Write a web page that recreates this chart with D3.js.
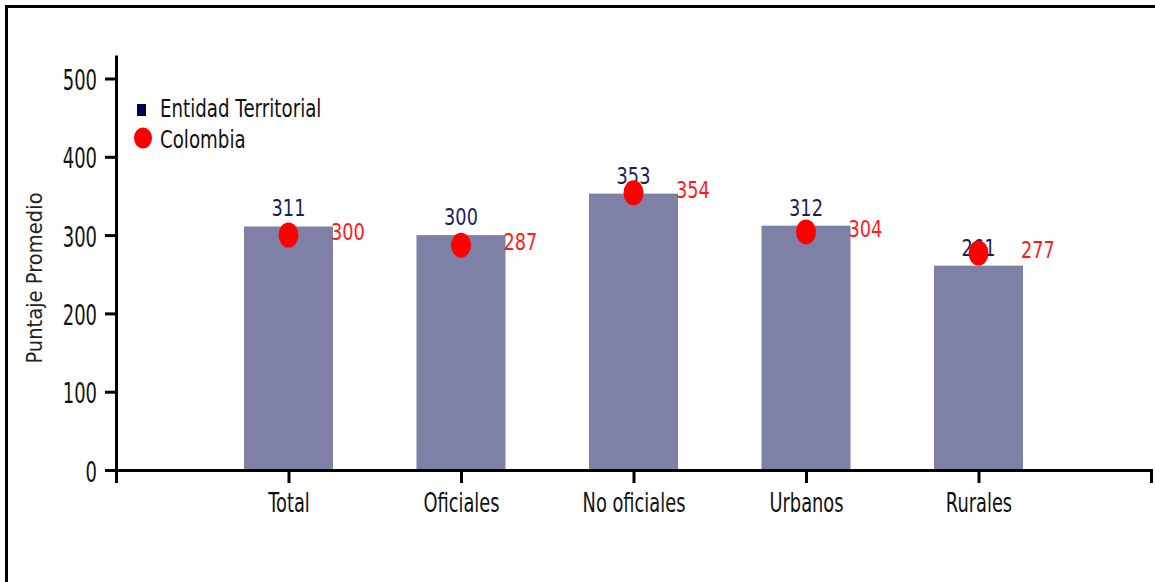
<!DOCTYPE html>
<html>
<head>
<meta charset="utf-8">
<script src="https://cdn.jsdelivr.net/npm/d3@7"></script>
<style>
  body { margin: 0; background: #fff; }
  text { font-family: "DejaVu Sans", sans-serif; }
</style>
</head>
<body>
<div id="chart" style="width:1155px;height:582px;"></div>
<script>
const categories = ["Total", "Oficiales", "No oficiales", "Urbanos", "Rurales"];
const entidad = [311, 300, 353, 312, 261];
const colombia = [300, 287, 354, 304, 277];
const yTicks = [0, 100, 200, 300, 400, 500];
const legendLabels = ["Entidad Territorial", "Colombia"];

const width = 1155, height = 582;
const svg = d3.select("#chart").append("svg")
    .attr("width", width)
    .attr("height", height);

// frame (top + left only visible)
svg.append("path")
    .attr("d", "M6.5,590V6.5H1160")
    .attr("fill", "none")
    .attr("stroke", "#000")
    .attr("stroke-width", 3);

const x = d3.scalePoint().domain(categories).range([116, 1151]).padding(1);
const y = d3.scaleLinear().domain([0, 530]).range([470, 55]);
const barW = 89;

const data = categories.map((c, i) => ({ cat: c, ent: entidad[i], col: colombia[i] }));

// bars
svg.append("g").selectAll("rect")
    .data(data)
    .join("rect")
    .attr("x", d => x(d.cat) - barW / 2)
    .attr("y", d => y(d.ent))
    .attr("width", barW)
    .attr("height", d => y(0) - y(d.ent))
    .attr("fill", "#7f80a6");

// y axis
const yAxis = svg.append("g")
    .attr("transform", "translate(116,0)")
    .call(d3.axisLeft(y).tickValues(yTicks).tickSize(11).tickSizeOuter(0));
yAxis.select(".domain").attr("stroke-width", 3);
yAxis.selectAll(".tick line").attr("stroke-width", 3);
yAxis.selectAll(".tick text")
    .attr("x", null).attr("dy", null)
    .attr("transform", "translate(-19,11) scale(0.62,1)")
    .attr("font-size", 29)
    .attr("fill", "#111");

// x axis
const xAxis = svg.append("g")
    .attr("transform", "translate(0,470)")
    .call(d3.axisBottom(x).tickSize(13).tickSizeOuter(13));
xAxis.select(".domain").attr("stroke-width", 3);
xAxis.selectAll(".tick line").attr("stroke-width", 3);
xAxis.selectAll(".tick text")
    .attr("y", null).attr("dy", null)
    .attr("transform", "translate(0,42) scale(0.66,1)")
    .attr("font-size", 27)
    .attr("fill", "#111");

// y title
svg.append("text")
    .attr("transform", "translate(42,278) rotate(-90) scale(0.93,1)")
    .attr("text-anchor", "middle")
    .attr("font-size", 21)
    .attr("fill", "#222")
    .text("Puntaje Promedio");

// entidad labels
svg.append("g").selectAll("text")
    .data(data)
    .join("text")
    .attr("transform", d => `translate(${x(d.cat)},${y(d.ent) - 10}) scale(0.77,1)`)
    .attr("text-anchor", "middle")
    .attr("font-size", 23)
    .attr("fill", "#1c1c5c")
    .text(d => d.ent);

// colombia dots
svg.append("g").selectAll("ellipse")
    .data(data)
    .join("ellipse")
    .attr("cx", d => x(d.cat))
    .attr("cy", d => y(d.col))
    .attr("rx", 10)
    .attr("ry", 12.5)
    .attr("fill", "#ff0000");

// colombia labels
svg.append("g").selectAll("text")
    .data(data)
    .join("text")
    .attr("transform", d => `translate(${x(d.cat) + barW / 2 - 2},${y(d.col) + 5}) scale(0.77,1)`)
    .attr("font-size", 23)
    .attr("fill", "#ff1a1a")
    .text(d => d.col);

// legend
const legend = svg.append("g");
legend.append("rect")
    .attr("x", 137).attr("y", 104)
    .attr("width", 9).attr("height", 12)
    .attr("fill", "#000050");
legend.append("ellipse")
    .attr("cx", 143).attr("cy", 138)
    .attr("rx", 9).attr("ry", 10.5)
    .attr("fill", "#ff0000");
legend.selectAll("text")
    .data(legendLabels)
    .join("text")
    .attr("transform", (d, i) => `translate(160,${117 + i * 31}) scale(0.76,1)`)
    .attr("font-size", 24)
    .attr("fill", "#111")
    .text(d => d);
</script>
</body>
</html>
